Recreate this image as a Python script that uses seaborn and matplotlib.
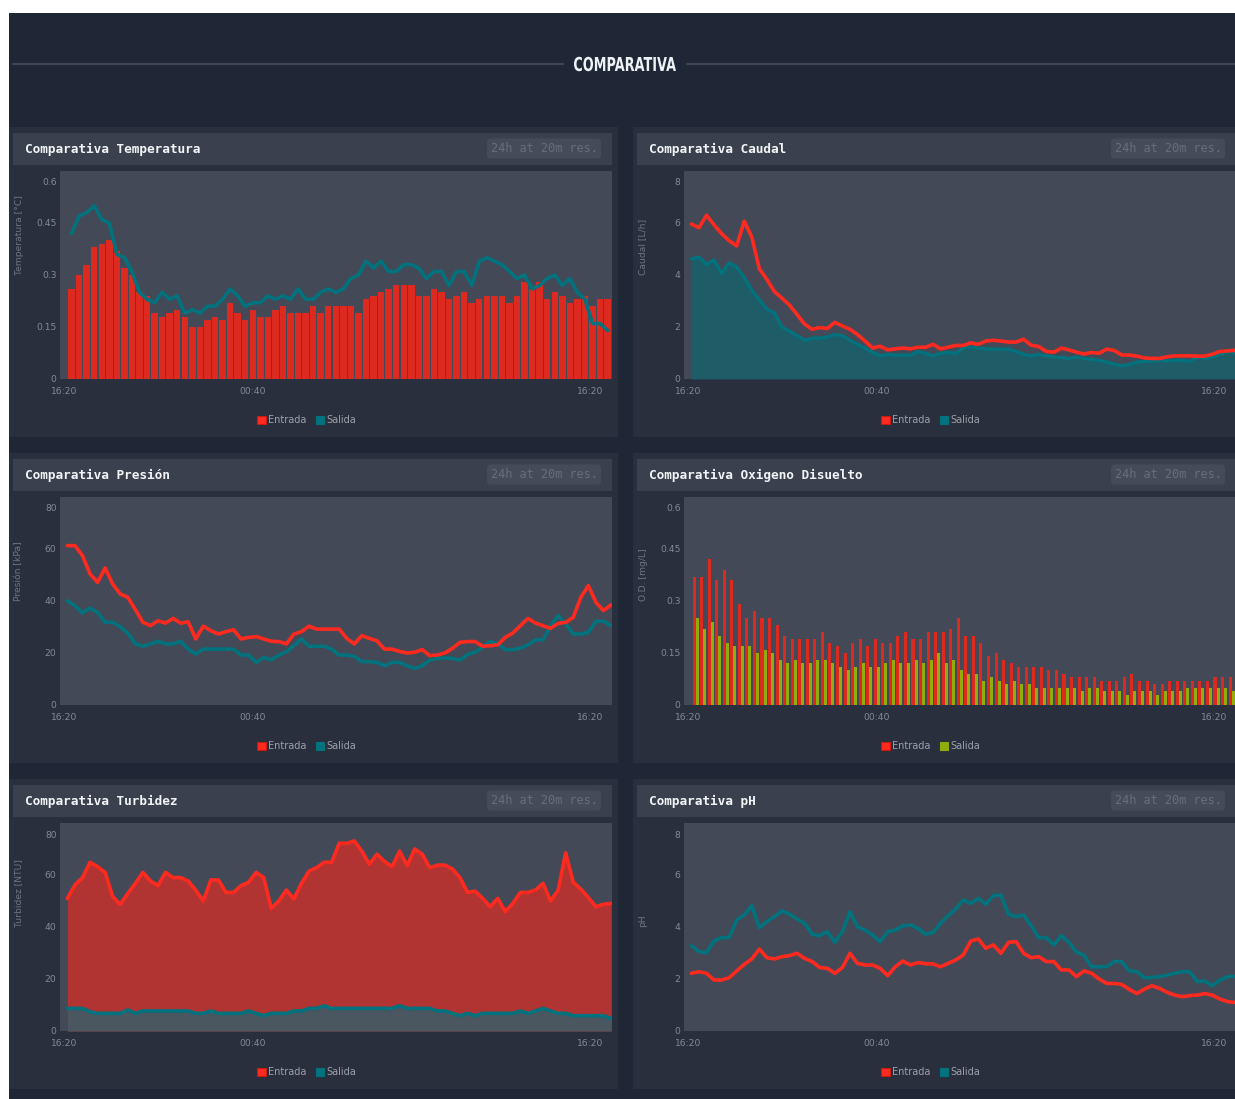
import numpy as np
import pandas as pd
import seaborn as sns
import matplotlib
matplotlib.use("Agg")
import matplotlib.pyplot as plt
from matplotlib.patches import Rectangle, Patch, PathPatch
from matplotlib.lines import Line2D
from matplotlib.textpath import TextPath
from matplotlib.font_manager import FontProperties
from matplotlib.transforms import ScaledTranslation, Affine2D, IdentityTransform

# ---------------------------------------------------------------- data
# hours after 16:20, sampled every 20 minutes
t_bar = (np.arange(72) + 1) / 3
t_line = 0.15 + np.arange(73) / 3

x_tick_pos = [0, 25 / 3, 24]
x_tick_lbl = ["16:20", "00:40", "16:20"]

temp_entrada = [0.26, 0.30, 0.33, 0.38, 0.39, 0.40, 0.37, 0.32, 0.30, 0.25,
                0.24, 0.19, 0.18, 0.19, 0.20, 0.18, 0.15, 0.15, 0.17, 0.18,
                0.17, 0.22, 0.19, 0.17, 0.20, 0.18, 0.18, 0.20, 0.21, 0.19,
                0.19, 0.19, 0.21, 0.19, 0.21, 0.21, 0.21, 0.21, 0.19, 0.23,
                0.24, 0.25, 0.26, 0.27, 0.27, 0.27, 0.24, 0.24, 0.26, 0.25,
                0.23, 0.24, 0.25, 0.22, 0.23, 0.24, 0.24, 0.24, 0.22, 0.24,
                0.28, 0.26, 0.28, 0.23, 0.25, 0.24, 0.22, 0.23, 0.24, 0.21,
                0.23, 0.23]
temp_salida = [0.42, 0.47, 0.48, 0.50, 0.46, 0.45, 0.36, 0.35, 0.31, 0.25,
               0.23, 0.22, 0.25, 0.23, 0.24, 0.19, 0.20, 0.19, 0.21, 0.21,
               0.23, 0.26, 0.24, 0.21, 0.22, 0.22, 0.24, 0.23, 0.24, 0.23,
               0.26, 0.23, 0.23, 0.25, 0.26, 0.25, 0.26, 0.29, 0.30, 0.34,
               0.32, 0.34, 0.31, 0.31, 0.33, 0.33, 0.32, 0.29, 0.31, 0.31,
               0.27, 0.31, 0.31, 0.27, 0.34, 0.35, 0.34, 0.33, 0.31, 0.29,
               0.30, 0.26, 0.27, 0.29, 0.30, 0.27, 0.29, 0.25, 0.23, 0.16,
               0.16, 0.14]

caudal_entrada = [5.96, 5.82, 6.30, 5.93, 5.59, 5.32, 5.12, 6.07, 5.46, 4.24,
                  3.83, 3.36, 3.11, 2.84, 2.48, 2.11, 1.91, 1.98, 1.94, 2.18,
                  2.04, 1.91, 1.71, 1.46, 1.19, 1.26, 1.12, 1.16, 1.19, 1.16,
                  1.22, 1.22, 1.33, 1.16, 1.22, 1.29, 1.29, 1.39, 1.33, 1.46,
                  1.49, 1.46, 1.42, 1.42, 1.53, 1.30, 1.25, 1.06, 1.03, 1.19,
                  1.12, 1.03, 0.96, 1.02, 0.99, 1.15, 1.10, 0.92, 0.92, 0.88,
                  0.81, 0.79, 0.79, 0.85, 0.89, 0.89, 0.89, 0.88, 0.88, 0.95,
                  1.06, 1.08, 1.10]
caudal_salida = [4.62, 4.69, 4.41, 4.58, 4.06, 4.47, 4.31, 3.90, 3.43, 3.05,
                 2.68, 2.55, 2.00, 1.84, 1.67, 1.49, 1.57, 1.57, 1.62, 1.71,
                 1.67, 1.49, 1.33, 1.19, 1.03, 0.89, 0.95, 0.92, 0.92, 0.92,
                 1.06, 0.99, 0.89, 0.99, 1.02, 0.99, 1.19, 1.22, 1.19, 1.16,
                 1.15, 1.15, 1.15, 1.06, 0.95, 0.89, 0.95, 0.89, 0.85, 0.83,
                 0.79, 0.85, 0.79, 0.76, 0.72, 0.65, 0.58, 0.51, 0.56, 0.65,
                 0.68, 0.68, 0.72, 0.69, 0.72, 0.72, 0.68, 0.85, 0.79, 0.83,
                 0.95, 1.06, 1.00]

presion_entrada = [61.3, 61.3, 57.4, 50.4, 47.2, 52.7, 46.5, 42.7, 41.4, 36.7,
                   31.8, 30.5, 32.4, 31.5, 33.3, 31.5, 32.0, 25.4, 30.3, 28.6,
                   27.3, 28.2, 29.0, 25.4, 26.0, 26.3, 25.4, 24.5, 24.4, 23.5,
                   27.3, 28.2, 30.3, 29.2, 29.2, 29.2, 29.2, 25.6, 23.5, 26.7,
                   25.6, 24.7, 21.5, 21.5, 20.6, 20.0, 20.3, 21.3, 19.0, 19.2,
                   20.0, 21.8, 24.1, 24.4, 24.4, 22.6, 22.8, 23.1, 26.0, 27.7,
                   30.5, 33.3, 31.5, 30.5, 29.5, 31.4, 31.8, 33.7, 41.4, 45.9,
                   39.5, 36.3, 38.5]
presion_salida = [40.1, 38.2, 35.4, 37.3, 35.6, 31.8, 31.8, 30.1, 27.6, 23.5,
                  22.6, 23.5, 24.5, 23.5, 23.5, 24.5, 21.5, 19.6, 21.5, 21.5,
                  21.5, 21.5, 21.5, 19.2, 19.2, 16.4, 18.3, 17.4, 19.2, 20.5,
                  22.8, 25.4, 22.6, 22.6, 22.6, 21.5, 19.2, 19.2, 18.7, 16.7,
                  16.7, 16.4, 15.1, 16.4, 16.4, 15.1, 14.1, 15.1, 17.3, 17.9,
                  18.1, 17.9, 17.3, 19.4, 20.3, 22.2, 24.4, 23.5, 21.3, 21.3,
                  21.9, 23.1, 25.1, 25.1, 30.5, 34.4, 31.2, 27.3, 27.3, 27.9,
                  32.2, 32.2, 30.5]

od_entrada = [0.37, 0.37, 0.42, 0.36, 0.39, 0.36, 0.29, 0.25, 0.27, 0.25,
              0.25, 0.23, 0.20, 0.19, 0.19, 0.19, 0.19, 0.21, 0.18, 0.17,
              0.15, 0.18, 0.19, 0.17, 0.19, 0.18, 0.18, 0.20, 0.21, 0.19,
              0.19, 0.21, 0.21, 0.21, 0.22, 0.25, 0.20, 0.20, 0.18, 0.14,
              0.15, 0.13, 0.12, 0.11, 0.11, 0.11, 0.11, 0.10, 0.10, 0.09,
              0.08, 0.08, 0.08, 0.08, 0.07, 0.07, 0.07, 0.08, 0.09, 0.07,
              0.07, 0.06, 0.06, 0.07, 0.07, 0.07, 0.07, 0.07, 0.07, 0.08,
              0.08, 0.08]
od_salida = [0.25, 0.22, 0.24, 0.20, 0.18, 0.17, 0.17, 0.17, 0.15, 0.16,
             0.15, 0.13, 0.12, 0.13, 0.12, 0.12, 0.13, 0.13, 0.12, 0.11,
             0.10, 0.11, 0.12, 0.11, 0.11, 0.12, 0.13, 0.12, 0.12, 0.13,
             0.12, 0.13, 0.15, 0.12, 0.13, 0.10, 0.09, 0.09, 0.07, 0.08,
             0.07, 0.06, 0.07, 0.06, 0.06, 0.05, 0.05, 0.05, 0.05, 0.05,
             0.05, 0.04, 0.05, 0.05, 0.04, 0.04, 0.04, 0.03, 0.04, 0.04,
             0.04, 0.03, 0.04, 0.04, 0.04, 0.05, 0.05, 0.05, 0.05, 0.05,
             0.05, 0.04]

turbidez_entrada = [51.0, 56.2, 59.0, 64.9, 63.2, 61.0, 51.7, 48.7, 52.9, 56.8,
                    61.0, 57.7, 55.9, 61.0, 59.0, 59.0, 57.7, 54.2, 50.0, 58.1,
                    58.1, 53.3, 53.3, 55.9, 57.2, 61.0, 59.0, 47.2, 50.0, 54.2,
                    50.8, 56.8, 61.5, 62.8, 64.9, 64.9, 72.2, 72.2, 73.1, 69.2,
                    64.1, 68.0, 65.2, 63.2, 69.2, 63.6, 70.0, 68.0, 62.8, 63.8,
                    63.8, 62.3, 59.0, 53.3, 53.8, 51.0, 47.8, 51.0, 45.9, 49.1,
                    53.3, 53.3, 54.2, 56.8, 50.0, 54.2, 68.5, 57.2, 54.6, 51.3,
                    47.8, 48.7, 49.1]
turbidez_salida = [8.7, 8.7, 8.7, 7.4, 6.8, 6.8, 6.8, 6.8, 8.1, 6.8,
                   7.7, 7.7, 7.7, 7.7, 7.7, 7.7, 7.7, 6.8, 6.8, 7.7,
                   6.8, 6.8, 6.8, 6.8, 7.7, 6.8, 5.9, 6.8, 6.8, 6.8,
                   7.7, 7.7, 8.7, 8.7, 9.7, 8.7, 8.7, 8.7, 8.7, 8.7,
                   8.7, 8.7, 8.7, 8.7, 9.7, 8.7, 8.7, 8.7, 8.7, 7.7,
                   7.7, 6.8, 5.9, 6.8, 5.9, 6.8, 6.8, 6.8, 6.8, 6.8,
                   7.7, 6.8, 7.7, 8.7, 7.7, 6.8, 6.8, 5.9, 5.9, 5.9,
                   5.9, 5.9, 4.9]

ph_entrada = [2.22, 2.28, 2.22, 1.96, 1.96, 2.05, 2.31, 2.56, 2.77, 3.15,
              2.82, 2.77, 2.86, 2.90, 2.99, 2.79, 2.67, 2.44, 2.41, 2.22,
              2.44, 2.99, 2.60, 2.54, 2.54, 2.41, 2.13, 2.47, 2.69, 2.54,
              2.63, 2.59, 2.58, 2.47, 2.60, 2.73, 2.92, 3.46, 3.54, 3.18,
              3.31, 2.99, 3.41, 3.44, 2.99, 2.82, 2.86, 2.67, 2.67, 2.35,
              2.35, 2.09, 2.31, 2.22, 2.00, 1.83, 1.83, 1.79, 1.60, 1.44,
              1.61, 1.74, 1.64, 1.49, 1.38, 1.32, 1.36, 1.38, 1.44, 1.38,
              1.23, 1.13, 1.10]
ph_salida = [3.28, 3.05, 3.01, 3.47, 3.59, 3.59, 4.27, 4.46, 4.82, 3.97,
             4.21, 4.40, 4.62, 4.49, 4.31, 4.14, 3.72, 3.67, 3.82, 3.41,
             3.82, 4.59, 4.01, 3.88, 3.69, 3.44, 3.82, 3.88, 4.04, 4.08,
             3.95, 3.72, 3.79, 4.14, 4.44, 4.69, 5.04, 4.91, 5.10, 4.87,
             5.21, 5.23, 4.49, 4.40, 4.46, 4.05, 3.59, 3.59, 3.31, 3.67,
             3.41, 3.03, 2.92, 2.47, 2.47, 2.47, 2.67, 2.67, 2.31, 2.28,
             2.05, 2.06, 2.09, 2.15, 2.22, 2.28, 2.28, 1.90, 1.92, 1.74,
             1.96, 2.09, 2.10]

# ---------------------------------------------------------------- style
W, H = 1235, 1099
PAGE = "#1f2636"
CARD = "#292f3d"
HEADER = "#3a404d"
PLOT = "#434956"
RES_BOX = "#454b58"
RULE = "#3e4553"
RED = "#ff2a1f"
RED_BAR = "#dd2a20"
RED_FILL = "#b13332"
TEAL = "#00737e"
TEAL_FILL = "#1e5c68"
TEAL_FILL_T = "#4a5660"
GREEN = "#8fae0c"
TICK_C = "#858b95"
LABEL_C = "#6f7581"
LEG_C = "#9ca2ac"

sns.set_style("white")
plt.rcParams["font.family"] = ["DejaVu Sans"]

fig = plt.figure(figsize=(W / 100, H / 100), dpi=100, facecolor="white")


def fx(x):
    return x / W


def fy(y):
    return 1 - y / H


def add_rect(x0, y0, x1, y1, color, z=-5):
    fig.add_artist(Rectangle((fx(x0), fy(y1)), (x1 - x0) / W, (y1 - y0) / H,
                             transform=fig.transFigure, facecolor=color,
                             edgecolor="none", zorder=z))


# page background and section title
add_rect(9, 13, W + 5, H + 5, PAGE, z=-10)
fig.add_artist(Line2D([fx(13), fx(563)], [fy(64), fy(64)], color=RULE,
                      lw=1.6, transform=fig.transFigure, zorder=-4))
fig.add_artist(Line2D([fx(687), fx(W)], [fy(64), fy(64)], color=RULE,
                      lw=1.6, transform=fig.transFigure, zorder=-4))

# condensed bold heading, drawn as a glyph path in pixel units
title_path = TextPath((0, 0), "COMPARATIVA", size=19.5,
                      prop=FontProperties(family="DejaVu Sans", weight="bold"))
bb = title_path.get_extents()
sx = 102 / bb.width
sy = 14.5 / bb.height
tx = 625 - (bb.x0 + bb.width / 2) * sx
ty = (H - 64) - (bb.y0 + bb.height / 2) * sy
fig.add_artist(PathPatch(title_path, facecolor="#eef1f5", edgecolor="none",
                         transform=Affine2D().scale(sx, sy).translate(tx, ty)
                         + IdentityTransform(), zorder=5))

COL_X = [9, 633]
ROW_Y = [127, 453, 779]
PX_PER_H = 22.65


def panel(col, row, title, ylabel, ymax, ylabels, legend_colors):
    cl, T = COL_X[col], ROW_Y[row]
    add_rect(cl, T, cl + 609, T + 310, CARD, z=-6)
    add_rect(cl + 4, T + 6, cl + 603, T + 38, HEADER, z=-5)
    fig.text(fx(cl + 16), fy(T + 22), title, ha="left", va="center",
             color="#f2f4f7", fontsize=9.2, fontweight="bold",
             family="DejaVu Sans Mono")
    fig.text(fx(cl + 535), fy(T + 21.5), "24h at 20m res.", ha="center",
             va="center", color="#686e7a", fontsize=8.6,
             family="DejaVu Sans Mono",
             bbox=dict(boxstyle="round,pad=0.3,rounding_size=0.35",
                       fc=RES_BOX, ec="none"))
    # y axis title, starting at the plot's vertical middle
    fig.text(fx(cl + 10), fy(T + 148), ylabel, rotation=90,
             rotation_mode="anchor", ha="left", va="center",
             color=LABEL_C, fontsize=6.6)
    ax = fig.add_axes([fx(cl + 51), fy(T + 252), 552 / W, 208 / H])
    ax.set_facecolor(PLOT)
    ax._panel = (cl, T, ymax, ylabels, legend_colors)
    return ax


def finish(ax):
    cl, T, ymax, ylabels, legend_colors = ax._panel
    x0 = -(4 / PX_PER_H)
    ax.set_xlim(x0, x0 + 552 / PX_PER_H)
    ax.set_ylim(0, ymax)
    ax.set_xlabel("")
    ax.set_ylabel("")
    for s in ax.spines.values():
        s.set_visible(False)
    ax.grid(False)
    ax.set_xticks(x_tick_pos, x_tick_lbl)
    ax.set_yticks(np.linspace(0, ymax, 5), ylabels)
    ax.tick_params(axis="both", length=0, labelsize=6.6, labelcolor=TICK_C)
    ax.tick_params(axis="y", pad=2.5)
    ax.tick_params(axis="x", pad=5.5)
    # keep the outermost labels inside the plot frame
    ylab = ax.get_yticklabels()[-1]
    ylab.set_transform(ylab.get_transform()
                       + ScaledTranslation(0, -0.11, fig.dpi_scale_trans))
    xlab = ax.get_xticklabels()[-1]
    xlab.set_transform(xlab.get_transform()
                       + ScaledTranslation(-0.17, 0, fig.dpi_scale_trans))
    handles = [Patch(facecolor=legend_colors[0], edgecolor="#c41c12", lw=0.8),
               Patch(facecolor=legend_colors[1], edgecolor=legend_colors[1], lw=0.8)]
    fig.legend(handles, ["Entrada", "Salida"], loc="center",
               bbox_to_anchor=(fx(cl + 298), fy(T + 293)), ncol=2,
               frameon=False, fontsize=7, labelcolor=LEG_C,
               handlelength=0.85, handleheight=0.85, handletextpad=0.25,
               columnspacing=1.0, borderpad=0)


# ---- Temperatura: bars + line
ax = panel(0, 0, "Comparativa Temperatura", "Temperatura [°C]", 0.6,
           ["0", "0.15", "0.3", "0.45", "0.6"], [RED, TEAL])
sns.barplot(x=t_bar, y=temp_entrada, native_scale=True, width=0.86,
            color=RED_BAR, saturation=1, errorbar=None, linewidth=0, ax=ax)
sns.lineplot(x=t_bar, y=temp_salida, color=TEAL, lw=2.6, ax=ax, zorder=4)
finish(ax)

# ---- Caudal: filled outlet, inlet line
ax = panel(1, 0, "Comparativa Caudal", "Caudal [L/h]", 8,
           ["0", "2", "4", "6", "8"], [RED, TEAL])
ax.fill_between(t_line, 0, caudal_salida, color=TEAL_FILL, lw=0, zorder=1)
sns.lineplot(x=t_line, y=caudal_salida, color=TEAL, lw=2.4, ax=ax, zorder=3)
sns.lineplot(x=t_line, y=caudal_entrada, color=RED, lw=2.6, ax=ax, zorder=4)
finish(ax)

# ---- Presión: two lines
ax = panel(0, 1, "Comparativa Presión", "Presión [kPa]", 80,
           ["0", "20", "40", "60", "80"], [RED, TEAL])
sns.lineplot(x=t_line, y=presion_salida, color=TEAL, lw=2.6, ax=ax, zorder=3)
sns.lineplot(x=t_line, y=presion_entrada, color=RED, lw=2.6, ax=ax, zorder=4)
finish(ax)

# ---- Oxígeno disuelto: grouped bars
ax = panel(1, 1, "Comparativa Oxigeno Disuelto", "O.D. [mg/L]", 0.6,
           ["0", "0.15", "0.3", "0.45", "0.6"], [RED, GREEN])
od = pd.DataFrame({
    "t": np.concatenate([t_bar, t_bar]),
    "valor": od_entrada + od_salida,
    "serie": ["Entrada"] * len(t_bar) + ["Salida"] * len(t_bar),
})
sns.barplot(data=od, x="t", y="valor", hue="serie", native_scale=True,
            dodge=True, width=0.8, palette={"Entrada": RED_BAR, "Salida": GREEN},
            saturation=1, errorbar=None, linewidth=0, legend=False, ax=ax)
finish(ax)

# ---- Turbidez: stacked areas
ax = panel(0, 2, "Comparativa Turbidez", "Turbidez [NTU]", 80,
           ["0", "20", "40", "60", "80"], [RED, TEAL])
ax.fill_between(t_line, 0, turbidez_entrada, color=RED_FILL, lw=0, zorder=1)
sns.lineplot(x=t_line, y=turbidez_entrada, color=RED, lw=2.6, ax=ax, zorder=4)
ax.fill_between(t_line, 0, turbidez_salida, color=TEAL_FILL_T, lw=0, zorder=2)
sns.lineplot(x=t_line, y=turbidez_salida, color=TEAL, lw=2.6, ax=ax, zorder=3)
finish(ax)

# ---- pH: two lines
ax = panel(1, 2, "Comparativa pH", "pH", 8,
           ["0", "2", "4", "6", "8"], [RED, TEAL])
sns.lineplot(x=t_line, y=ph_salida, color=TEAL, lw=2.6, ax=ax, zorder=3)
sns.lineplot(x=t_line, y=ph_entrada, color=RED, lw=2.6, ax=ax, zorder=4)
finish(ax)

fig.savefig("out.png", dpi=100, facecolor="white")
